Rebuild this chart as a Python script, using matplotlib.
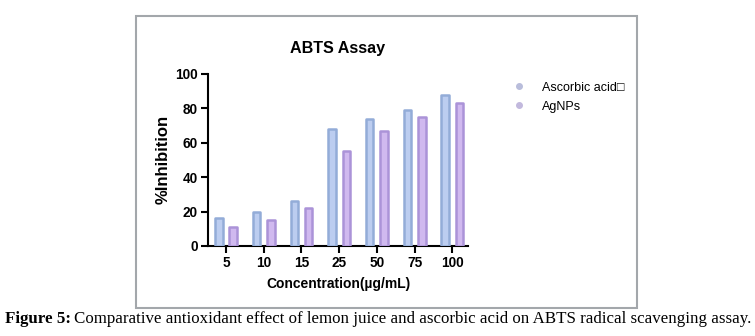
import numpy as np
import matplotlib.pyplot as plt
from matplotlib.patches import Rectangle
from matplotlib.lines import Line2D

# --- Data ---
concentrations = ['5', '10', '15', '25', '50', '75', '100']
ascorbic = [16, 20, 26, 68, 74, 79, 88]
agnps = [11, 15, 22, 55, 67, 75, 83]

fig = plt.figure(figsize=(7.55, 3.36), dpi=100)
ax = fig.add_axes([0.2755, 0.268, 0.3445, 0.512])

x = np.arange(len(concentrations))
w = 0.2
off = 0.19
ax.bar(x - off, ascorbic, w, color='#bccdf0', edgecolor='#93acd8', linewidth=1.8,
       joinstyle='round', zorder=3)
ax.bar(x + off, agnps, w, color='#d0b9ef', edgecolor='#ab93d8', linewidth=1.8,
       joinstyle='round', zorder=3)

ax.set_xlim(-0.48, 6.42)
ax.set_ylim(0, 100)
ax.set_xticks(x)
ax.set_xticklabels(concentrations)
ax.set_yticks([0, 20, 40, 60, 80, 100])

font = ['Liberation Sans', 'DejaVu Sans']
for lab in ax.get_xticklabels() + ax.get_yticklabels():
    lab.set_family(font)
    lab.set_fontweight('bold')
    lab.set_fontsize(9.8)

ax.spines['top'].set_visible(False)
ax.spines['right'].set_visible(False)
for s in ('left', 'bottom'):
    ax.spines[s].set_linewidth(1.5)
ax.tick_params(width=1.5, length=5, pad=2.5)

ax.set_title('ABTS Assay', family=font, fontweight='bold', fontsize=11.6, pad=15)
ax.set_ylabel('%Inhibition', family=font, fontweight='bold', fontsize=12, labelpad=3)
ax.set_xlabel('Concentration(µg/mL)', family=font, fontweight='bold', fontsize=10, labelpad=5)

# --- Legend ---
handles = [Line2D([], [], marker='o', linestyle='none', markersize=4,
                  markerfacecolor='#b9bddb', markeredgecolor='#b9bddb'),
           Line2D([], [], marker='o', linestyle='none', markersize=4,
                  markerfacecolor='#c2b9dd', markeredgecolor='#c2b9dd')]
fig.legend(handles, ['Ascorbic acid\u25a1', 'AgNPs'], loc='upper left',
           bbox_to_anchor=(0.656, 0.79), bbox_transform=fig.transFigure,
           frameon=False, handletextpad=0.8, labelspacing=0.55,
           prop={'family': font, 'size': 9})

# --- Box around the chart ---
fig.patches.append(Rectangle((136 / 755, 1 - 308 / 336), (637 - 136) / 755, (308 - 16) / 336,
                             transform=fig.transFigure, fill=False,
                             edgecolor='#a3a7ab', linewidth=1.5))

# --- Caption ---
serif = ['Liberation Serif', 'DejaVu Serif']
t1 = fig.text(0.006, 1 - 319 / 336, 'Figure 5:', family=serif, fontweight='bold',
              fontsize=12.2, va='center')
fig.canvas.draw()
bb = t1.get_window_extent()
fig.text((bb.x1 + 3) / 755, 1 - 319 / 336,
         'Comparative antioxidant effect of lemon juice and ascorbic acid on ABTS radical scavenging assay.',
         family=serif, fontsize=12.2, va='center')

fig.savefig('out.png', dpi=100)
